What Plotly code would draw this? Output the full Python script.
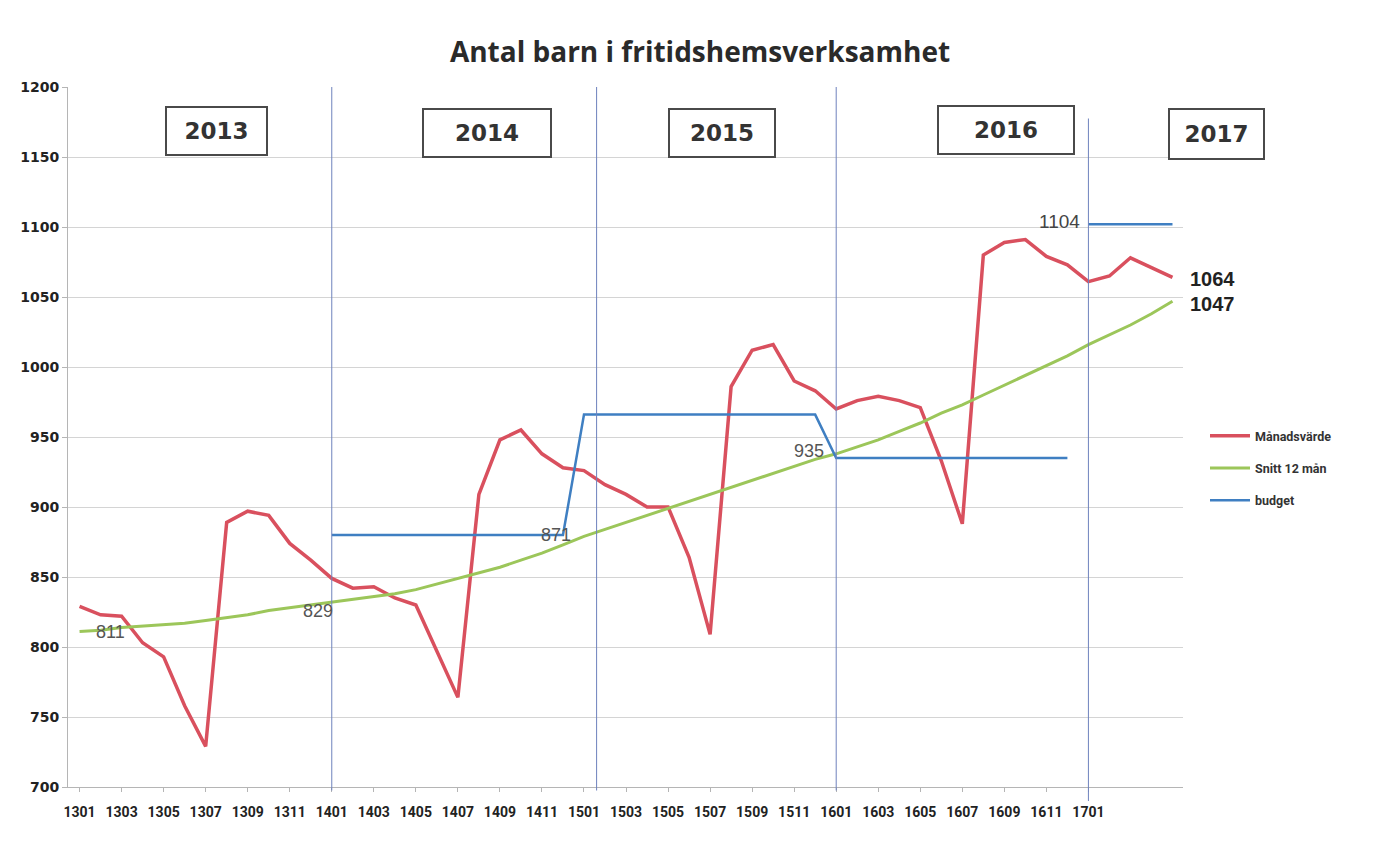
import plotly.graph_objects as go

# ---------------- data ----------------
months = [
    "1301", "1302", "1303", "1304", "1305", "1306", "1307", "1308", "1309", "1310", "1311", "1312",
    "1401", "1402", "1403", "1404", "1405", "1406", "1407", "1408", "1409", "1410", "1411", "1412",
    "1501", "1502", "1503", "1504", "1505", "1506", "1507", "1508", "1509", "1510", "1511", "1512",
    "1601", "1602", "1603", "1604", "1605", "1606", "1607", "1608", "1609", "1610", "1611", "1612",
    "1701", "1702", "1703", "1704", "1705",
]

manadsvarde = [
    829, 823, 822, 803, 793, 758, 729, 889, 897, 894, 874, 862,
    849, 842, 843, 835, 830, 797, 764, 909, 948, 955, 938, 928,
    926, 916, 909, 900, 900, 864, 809, 986, 1012, 1016, 990, 983,
    970, 976, 979, 976, 971, 933, 888, 1080, 1089, 1091, 1079, 1073,
    1061, 1065, 1078, 1071, 1064,
]

snitt_12_man = [
    811, 812, 814, 815, 816, 817, 819, 821, 823, 826, 828, 830,
    832, 834, 836, 838, 841, 845, 849, 853, 857, 862, 867, 873,
    879, 884, 889, 894, 899, 904, 909, 914, 919, 924, 929, 934,
    938, 943, 948, 954, 960, 967, 973, 980, 987, 994, 1001, 1008,
    1016, 1023, 1030, 1038, 1047,
]

budget = [
    None, None, None, None, None, None, None, None, None, None, None, None,
    880, 880, 880, 880, 880, 880, 880, 880, 880, 880, 880, 880,
    966, 966, 966, 966, 966, 966, 966, 966, 966, 966, 966, 966,
    935, 935, 935, 935, 935, 935, 935, 935, 935, 935, 935, 935,
    None, None, None, None, None,
]

budget_2017 = [
    None, None, None, None, None, None, None, None, None, None, None, None,
    None, None, None, None, None, None, None, None, None, None, None, None,
    None, None, None, None, None, None, None, None, None, None, None, None,
    None, None, None, None, None, None, None, None, None, None, None, None,
    1102, 1102, 1102, 1102, 1102,
]

year_labels = ["2013", "2014", "2015", "2016", "2017"]
year_dividers = [12, 24.6, 36, 48]   # category index where a year divider is drawn
x_tick_labels = months[0:49:2]
y_ticks = [700, 750, 800, 850, 900, 950, 1000, 1050, 1100, 1150, 1200]

# ---------------- figure ----------------
RED = "#d9505e"
GREEN = "#9cc65a"
BLUE = "#3f7fc2"

fig = go.Figure()
fig.add_trace(go.Scatter(x=months, y=manadsvarde, mode="lines", name="Månadsvärde",
                         legendgroup="a", line=dict(color=RED, width=3.5)))
fig.add_trace(go.Scatter(x=months, y=snitt_12_man, mode="lines", name="Snitt 12 mån",
                         legendgroup="b", line=dict(color=GREEN, width=3)))
fig.add_trace(go.Scatter(x=months, y=budget, mode="lines", name="budget",
                         legendgroup="c", line=dict(color=BLUE, width=2.5)))
fig.add_trace(go.Scatter(x=months, y=budget_2017, mode="lines", name="budget",
                         legendgroup="c", showlegend=False, line=dict(color=BLUE, width=2.5)))

L, R, T, B = 68, 207, 87, 61
W, H = 1390, 848
PW, PH = W - L - R, H - T - B


def px(xp):
    return (xp - L) / PW


def py(yp):
    return (H - B - yp) / PH


# year dividers
for i, d in enumerate(year_dividers):
    fig.add_shape(type="line", xref="x", yref="paper", x0=d, x1=d,
                  y0=-0.005 if i < 3 else -0.02, y1=1.0 if i < 3 else 0.955,
                  line=dict(color="#6e82bd", width=1), layer="above")

# year boxes (centre px, width, height)
boxes = [(216, 131, 103, 50), (487, 133, 130, 50), (722, 133, 108, 50),
         (1006, 130, 138, 50), (1216, 134, 97, 52)]
for lab, (cx, cy, bw, bh) in zip(year_labels, boxes):
    fig.add_annotation(text=lab, xref="paper", yref="paper", x=px(cx), y=py(cy),
                       xanchor="center", yanchor="middle", showarrow=False,
                       width=bw - 4, height=bh - 4, borderpad=0,
                       bordercolor="#4a4a4a", borderwidth=2, bgcolor="white",
                       font=dict(family="DejaVu Sans", size=23, color="#333333", weight="bold"))

# data labels (category axis -> use category index for annotation x)
lab_font = dict(family="Liberation Sans", size=18, color="#555555")


def data_label(text, xi, yv, xanchor, xshift, yshift, font):
    fig.add_annotation(text=text, xref="x", yref="y", x=xi, y=yv, xanchor=xanchor,
                       yanchor="middle", xshift=xshift, yshift=yshift,
                       showarrow=False, font=font)


last = len(months) - 1
data_label(str(snitt_12_man[0]), 1, snitt_12_man[1], "center", 10, -2, lab_font)
data_label("829", 11, snitt_12_man[11], "center", 7, -6, lab_font)
data_label("871", 23, budget[23], "center", -7, 0, lab_font)
data_label("935", 36, budget[36], "right", -10, 7, lab_font)
data_label("1104", 48, budget_2017[48], "right", -6, 3,
           dict(family="Liberation Sans", size=19, color="#444444"))
end_font = dict(family="Liberation Sans", size=20, color="#222222", weight="bold")
data_label(str(manadsvarde[-1]), last, manadsvarde[-1], "left", 16, -2, end_font)
data_label(str(snitt_12_man[-1]), last, snitt_12_man[-1], "left", 16, -3, end_font)

fig.update_layout(
    width=W, height=H,
    margin=dict(l=L, r=R, t=T, b=B, autoexpand=False),
    paper_bgcolor="white", plot_bgcolor="white",
    title=dict(text="Antal barn i fritidshemsverksamhet", x=700 / W, xanchor="center",
               y=1 - 52 / H, yanchor="middle",
               font=dict(family="Open Sans", size=28, color="#2a2a2a", weight="bold")),
    legend=dict(x=px(1205), y=py(421), xanchor="left", yanchor="top",
                font=dict(family="Roboto", size=12.5, color="#333333", weight="bold"),
                tracegroupgap=13, itemwidth=40, bgcolor="rgba(0,0,0,0)"),
    xaxis=dict(type="category", range=[-0.55, 52.5], tickmode="array",
               tickvals=x_tick_labels, ticktext=x_tick_labels, tickangle=0,
               showgrid=False, showline=True, linecolor="#b5b5b5", linewidth=1,
               ticks="outside", ticklen=4, tickcolor="#b5b5b5", ticklabelstandoff=8,
               tickfont=dict(family="Roboto", size=14, color="#222222", weight="bold"),
               zeroline=False, automargin=False),
    yaxis=dict(range=[700, 1200], tickmode="array", tickvals=y_ticks,
               showgrid=True, gridcolor="#d4d4d4", gridwidth=1,
               showline=True, linecolor="#b5b5b5", linewidth=1,
               ticks="outside", ticklen=5, tickcolor="#b5b5b5",
               tickfont=dict(family="DejaVu Sans", size=14, color="#222222", weight="bold"),
               zeroline=False, automargin=False),
    showlegend=True,
)

fig.write_html("out.html", config={"displayModeBar": False},
               post_script="document.body.style.margin='0px';")
